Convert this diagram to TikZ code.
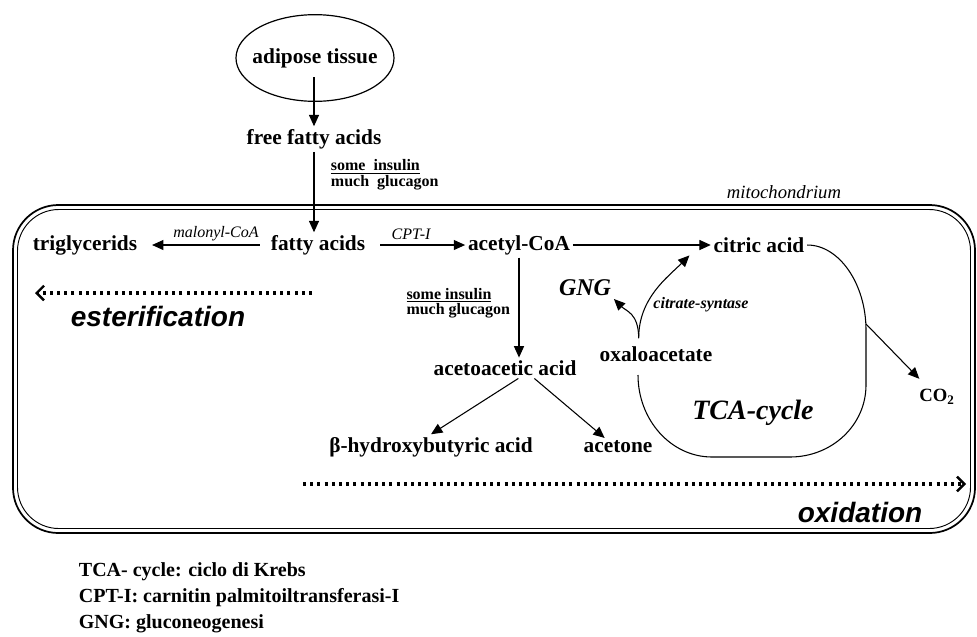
\documentclass[tikz,border=0pt]{standalone}
\usepackage{fontspec}
\setmainfont{Liberation Serif}
\newfontfamily\arialfont{Liberation Sans}
\usetikzlibrary{shapes, arrows.meta, positioning, calc}

\begin{document}
\begin{tikzpicture}
[
  x=0.75pt, y=-0.75pt,
  every node/.style={inner sep=2pt, font=\bfseries\fontsize{16}{19}\selectfont},
  lbl/.style={font=\itshape\fontsize{12}{14}\selectfont},
  hormone/.style={align=left, font=\bfseries\fontsize{12}{12}\selectfont},
  process/.style={font=\arialfont\bfseries\itshape\fontsize{21}{25}\selectfont},
  legend/.style={anchor=west, font=\bfseries\fontsize{15}{18}\selectfont},
  arr/.style={draw, line width=0.8pt, -{Triangle[length=8.5pt,width=7.5pt]}},
  dotarr/.style={draw, line width=2.3pt, dash pattern=on 2.2pt off 3.2pt, -{Straight Barb[length=5.5pt,width=11pt,line width=1.8pt]}}
]
\useasboundingbox (0,0) rectangle (977,636);

% mitochondrium
\draw[line width=1.3pt, rounded corners=34pt] (13,205) rectangle (975,533);
\draw[line width=0.7pt, rounded corners=31pt] (17.5,209.5) rectangle (970.5,528.5);
\node[font=\itshape\fontsize{14}{16}\selectfont] (mito) at (784,192) {mitochondrium};

\node[draw, ellipse, line width=0.9pt, inner xsep=-10pt, minimum width=118.5pt, minimum height=65pt] (adipose) at (315,58) {adipose tissue};
\coordinate (adiposeout) at (314,77);
\node (ffa) at (314,139) {free fatty acids};
\node[hormone, anchor=west] (insulin1) at (328,175) {\underline{some~~insulin}\\much~~glucagon};

\node (fa) at (318,245) {fatty acids};
\node (tg) at (85,245) {triglycerids};
\node (acoa) at (519,245) {acetyl-CoA};
\node (citric) at (759,245) {citric acid};
\node[lbl] (malonyl) at (216,234) {malonyl-CoA};
\node[lbl] (cpt) at (411,234) {CPT-I};
\node[hormone, anchor=east, font=\bfseries\fontsize{12}{11}\selectfont] (insulin2) at (513,303) {\underline{some insulin}\\much glucagon};

\node (aaa) at (505,368) {acetoacetic acid};
\node (bhb) at (431,447) {β-hydroxybutyric acid};
\node (acetone) at (618,447) {acetone};

\node (oaa) at (656,354) {oxaloacetate};
\node[font=\bfseries\itshape\fontsize{18}{20}\selectfont] (gng) at (585,288) {GNG};
\node[font=\bfseries\itshape\fontsize{12}{14}\selectfont] (cs) at (701,305) {citrate-syntase};
\node[font=\bfseries\itshape\fontsize{21}{24}\selectfont] (tca) at (753,413) {TCA-cycle};
\node[font=\bfseries\fontsize{14}{16}\selectfont] (co2) at (937,397) {CO\textsubscript{2}};

\node[process] (ester) at (158,316) {esterification};
\node[process] (oxid) at (860,512) {oxidation};
\coordinate (esterbegin) at (312,293);
\coordinate (esterend) at (35,293);
\coordinate (oxidbegin) at (303,484);
\coordinate (oxidend) at (966,484);

% legend
\node[legend] (leg1) at (76,572) {TCA- cycle: ciclo di Krebs};
\node[legend] (leg2) at (76,598) {CPT-I: carnitin palmitoiltransferasi-I};
\node[legend] (leg3) at (76,624) {GNG: gluconeogenesi};

% connections
\draw[arr] (adiposeout) -- (ffa.north);
\draw[arr] (ffa.south) -- (ffa.south |- fa.north);
\draw[arr, shorten <=6pt, shorten >=9pt] (fa) -- (tg);
\draw[arr, shorten <=9pt] (fa) -- (acoa);
\draw[arr] (acoa.east) -- (citric.west);
\draw[arr] (acoa.south) -- (acoa.south |- aaa.north);
\draw[arr] ([xshift=10pt]aaa.south) -- (bhb.north);
\draw[arr] ([xshift=22pt]aaa.south) -- ([xshift=-10pt]acetone.north);
\draw[arr] ([xshift=-13pt,yshift=4pt]oaa.north) .. controls +(0,-25) and +(12,12) .. (gng.south east);
\draw[arr] ([xshift=-13pt,yshift=4pt]oaa.north) .. controls +(0,-40) and +(-22,22) .. ([xshift=-16pt]citric.south west);

% TCA cycle
\coordinate (tcaexit) at (866,324);
\draw[line width=0.8pt] (citric.east) .. controls +(32,0) and +(0,-46) .. (866,330) -- (866,385)
  .. controls +(0,40) and +(42,0) .. (790,457) -- (712,457)
  .. controls +(-41,0) and +(0,45) .. (638,375);
\draw[arr, shorten >=8pt] (tcaexit) -- (co2);

\draw[dotarr] (esterbegin) -- (esterend);
\draw[dotarr] (oxidbegin) -- (oxidend);
\end{tikzpicture}
\end{document}
